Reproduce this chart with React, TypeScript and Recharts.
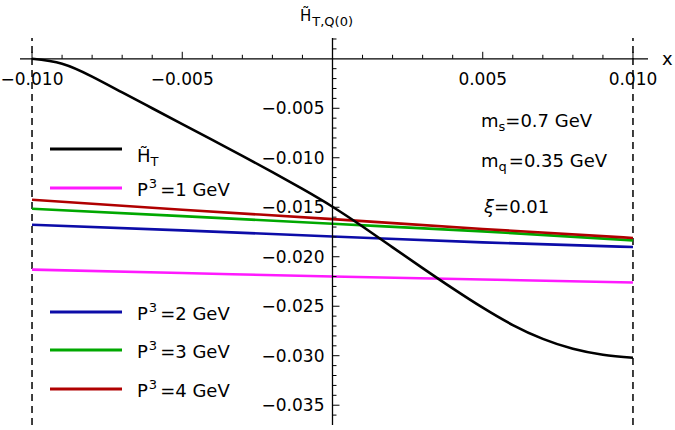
import { LineChart, Line, XAxis, YAxis, ReferenceLine, ReferenceDot } from 'recharts'

// H~_T curve, sampled every 0.001 in x
const xGrid = [
  -0.01, -0.009, -0.008, -0.007, -0.006, -0.005, -0.004, -0.003, -0.002, -0.001, 0,
  0.001, 0.002, 0.003, 0.004, 0.005, 0.006, 0.007, 0.008, 0.009, 0.01,
]
const hTilde = [
  0, -0.0005, -0.0018, -0.0034, -0.005, -0.0066, -0.0082, -0.0098, -0.01145, -0.01315, -0.01495,
  -0.01695, -0.01905, -0.02115, -0.0232, -0.02515, -0.0269, -0.0283, -0.0293, -0.0299, -0.0302,
]

// quasi-PDF curves for the four momenta
const pGrid = [-0.01, -0.005, 0, 0.005, 0.01]
const p1Gev = [-0.0213, -0.02165, -0.022, -0.0223, -0.0226]
const p2Gev = [-0.01677, -0.01734, -0.01795, -0.01855, -0.01902]
const p3Gev = [-0.01515, -0.0159, -0.01667, -0.01744, -0.01835]
const p4Gev = [-0.01424, -0.01525, -0.0162, -0.0172, -0.0181]

const xTickValues = [-0.01, -0.005, 0.005, 0.01]
const xTickLabels = ['−0.010', '−0.005', '0.005', '0.010']
const yTickValues = [-0.005, -0.01, -0.015, -0.02, -0.025, -0.03, -0.035]
const yTickLabels = ['−0.005', '−0.010', '−0.015', '−0.020', '−0.025', '−0.030', '−0.035']

const xMinor = Array.from({ length: 21 }, (_, i) => (i - 10) / 1000).filter(
  (v) => Math.round(v * 1000) % 5 !== 0,
)
const yMinor = Array.from({ length: 39 }, (_, i) => (2 - i) / 1000).filter(
  (v) => Math.round(v * 1000) % 5 !== 0,
)

const FONT = '"DejaVu Sans", sans-serif'

const hData = xGrid.map((x, i) => ({ x, y: hTilde[i] }))
const makeRows = (vals: number[]) => pGrid.map((x, i) => ({ x, y: vals[i] }))

const series = [
  { name: 'p1', rows: makeRows(p1Gev), color: '#ff1aff' },
  { name: 'p2', rows: makeRows(p2Gev), color: '#0c0ca8' },
  { name: 'p3', rows: makeRows(p3Gev), color: '#00a800' },
  { name: 'p4', rows: makeRows(p4Gev), color: '#b00000' },
]

const xTick = (len: number, label?: string) => (p: any) => (
  <g>
    <line x1={p.cx} y1={p.cy} x2={p.cx} y2={p.cy - len} stroke="#000" strokeWidth={1} />
    {label && (
      <text x={p.cx} y={p.cy + 26} textAnchor="middle" fontFamily={FONT} fontSize={17} fill="#000">
        {label}
      </text>
    )}
  </g>
)

const yTick = (len: number, label?: string) => (p: any) => (
  <g>
    <line x1={p.cx} y1={p.cy} x2={p.cx + len} y2={p.cy} stroke="#000" strokeWidth={1} />
    {label && (
      <text x={p.cx - 8} y={p.cy + 6} textAnchor="end" fontFamily={FONT} fontSize={17} fill="#000">
        {label}
      </text>
    )}
  </g>
)

const legendRows = [
  { key: 'h', color: '#000', y: 149, dy: 13 },
  { key: '1', color: '#ff1aff', y: 188, dy: 8 },
  { key: '2', color: '#0c0ca8', y: 312, dy: 8 },
  { key: '3', color: '#00a800', y: 350, dy: 8 },
  { key: '4', color: '#b00000', y: 389, dy: 8 },
]

function Overlay() {
  return (
    <svg width={675} height={430} style={{ position: 'absolute', left: 0, top: 0, pointerEvents: 'none' }}>
      <g fontFamily={FONT} fill="#000">
        <text x={300} y={21} fontSize={15}>
          H̃
          <tspan fontSize={13} dy={5} dx={1}>T,Q(0)</tspan>
        </text>
        <text x={662} y={65} fontSize={18}>x</text>

        {legendRows.map((r) => (
          <g key={r.key}>
            <line x1={50} x2={122} y1={r.y} y2={r.y} stroke={r.color} strokeWidth={3} />
            {r.key === 'h' ? (
              <text x={137} y={r.y + r.dy} fontSize={18}>
                H̃<tspan fontSize={13} dy={4}>T</tspan>
              </text>
            ) : (
              <text x={137} y={r.y + r.dy} fontSize={18}>
                P<tspan fontSize={13} dy={-8} dx={1}>3</tspan>
                <tspan dy={8} dx={3}>={r.key} GeV</tspan>
              </text>
            )}
          </g>
        ))}

        <text x={481} y={127} fontSize={18}>
          m<tspan fontSize={13} dy={4}>s</tspan>
          <tspan dy={-4}>=0.7 GeV</tspan>
        </text>
        <text x={481} y={167} fontSize={18}>
          m<tspan fontSize={13} dy={4}>q</tspan>
          <tspan dy={-4} dx={2}>=0.35 GeV</tspan>
        </text>
        <text x={484} y={213} fontSize={18}>
          <tspan fontStyle="italic">ξ</tspan>=0.01
        </text>
      </g>
    </svg>
  )
}

export default function App() {
  return (
    <div style={{ position: 'relative', width: 675, height: 430, background: '#fff' }}>
      <style>{'body{margin:0}'}</style>
      <LineChart width={675} height={430} margin={{ top: 38, right: 27, bottom: 5, left: 20 }}>
        <XAxis dataKey="x" type="number" domain={[-0.0104, 0.0105]} hide allowDataOverflow />
        <YAxis type="number" domain={[-0.037, 0.0021]} hide allowDataOverflow />

        <ReferenceLine x={-0.01} stroke="#000" strokeWidth={1.5} strokeDasharray="7 5" />
        <ReferenceLine x={0.01} stroke="#000" strokeWidth={1.5} strokeDasharray="7 5" />

        {series.map((s) => (
          <Line
            key={s.name}
            data={s.rows}
            dataKey="y"
            type="monotone"
            stroke={s.color}
            strokeWidth={2.6}
            dot={false}
            isAnimationActive={false}
          />
        ))}
        <Line
          data={hData}
          dataKey="y"
          type="natural"
          stroke="#000"
          strokeWidth={2.6}
          dot={false}
          isAnimationActive={false}
        />

        <ReferenceLine y={0} stroke="#000" strokeWidth={1.3} />
        <ReferenceLine x={0} stroke="#000" strokeWidth={1.3} />

        {xMinor.map((v) => (
          <ReferenceDot key={'xm' + v} x={v} y={0} r={1} shape={xTick(4)} />
        ))}
        {xTickValues.map((v, i) => (
          <ReferenceDot key={'xt' + v} x={v} y={0} r={1} shape={xTick(7, xTickLabels[i])} />
        ))}
        {yMinor.map((v) => (
          <ReferenceDot key={'ym' + v} x={0} y={v} r={1} shape={yTick(4)} />
        ))}
        {yTickValues.map((v, i) => (
          <ReferenceDot key={'yt' + v} x={0} y={v} r={1} shape={yTick(7, yTickLabels[i])} />
        ))}
      </LineChart>
      <Overlay />
    </div>
  )
}
